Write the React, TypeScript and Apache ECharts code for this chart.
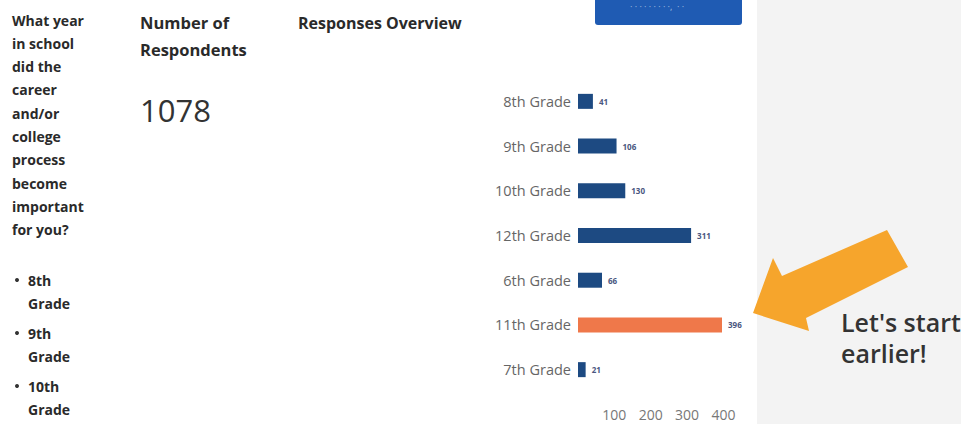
import React, { useEffect, useRef } from "react";
import * as echarts from "echarts";

const categories = ["8th Grade", "9th Grade", "10th Grade", "12th Grade", "6th Grade", "11th Grade", "7th Grade"];
const values = [41, 106, 130, 311, 66, 396, 21];
const highlight = "11th Grade";
const questionLines = ["What year", "in school", "did the", "career", "and/or", "college", "process", "become", "important", "for you?"];
const bulletItems = [["8th", "Grade"], ["9th", "Grade"], ["10th", "Grade"]];
const totalRespondents = "1078";

export default function App() {
  const ref = useRef<HTMLDivElement>(null);
  useEffect(() => {
    const chart = echarts.init(ref.current!, null, { renderer: "svg" });
    const font = "'Open Sans', 'Noto Sans', sans-serif";
    const graphics: any[] = [];
    graphics.push({ type: "rect", shape: { x: 757, y: 0, width: 204, height: 424 }, style: { fill: "#f3f3f3" }, z: 0 });
    graphics.push({ type: "rect", shape: { x: 595, y: -6, width: 147, height: 31, r: 3 }, style: { fill: "#1f5bb3" }, z: 1 });
    graphics.push({ type: "text", x: 630, y: 2, style: { text: "· · · · · · · · ·,  · ·", fill: "rgba(255,255,255,0.6)", font: `9px ${font}` }, z: 2 });
    questionLines.forEach((t, i) => {
      graphics.push({ type: "text", x: 12, y: 20 + i * 23.3, style: { text: t, fill: "#2a2a2a", font: `bold 14px ${font}`, textVerticalAlign: "middle" }, z: 2 });
    });
    bulletItems.forEach((b, i) => {
      const y0 = 280 + i * 53;
      graphics.push({ type: "circle", shape: { cx: 17, cy: y0, r: 2 }, style: { fill: "#333" }, z: 2 });
      graphics.push({ type: "text", x: 28, y: y0, style: { text: b[0], fill: "#2a2a2a", font: `bold 14px ${font}`, textVerticalAlign: "middle" }, z: 2 });
      graphics.push({ type: "text", x: 28, y: y0 + 23, style: { text: b[1], fill: "#2a2a2a", font: `bold 14px ${font}`, textVerticalAlign: "middle" }, z: 2 });
    });
    graphics.push({ type: "text", x: 140, y: 22, style: { text: "Number of", fill: "#2a2a2a", font: `bold 16.5px ${font}`, textVerticalAlign: "middle" }, z: 2 });
    graphics.push({ type: "text", x: 140, y: 49, style: { text: "Respondents", fill: "#2a2a2a", font: `bold 16.5px ${font}`, textVerticalAlign: "middle" }, z: 2 });
    graphics.push({ type: "text", x: 140, y: 110, style: { text: totalRespondents, fill: "#333", font: `31px ${font}`, textVerticalAlign: "middle" }, z: 2 });
    graphics.push({ type: "text", x: 298, y: 23, style: { text: "Responses Overview", fill: "#2a2a2a", font: `bold 16px ${font}`, textVerticalAlign: "middle" }, z: 2 });
    graphics.push({
      type: "polygon",
      shape: { points: [[887, 230], [908, 267], [806, 318], [809, 331], [753, 313], [773, 258], [782, 276]] },
      style: { fill: "#f6a52c" },
      z: 3,
    });
    graphics.push({ type: "text", x: 841, y: 322, style: { text: "Let's start", fill: "#333", font: `600 25px ${font}`, textVerticalAlign: "middle" }, z: 4 });
    graphics.push({ type: "text", x: 841, y: 353, style: { text: "earlier!", fill: "#333", font: `600 25px ${font}`, textVerticalAlign: "middle" }, z: 4 });

    chart.setOption({
      animation: false,
      backgroundColor: "#ffffff",
      graphic: graphics,
      grid: { left: 578, top: 79, width: 160, height: 313, containLabel: false },
      xAxis: {
        type: "value",
        min: 0,
        max: 440,
        interval: 100,
        axisLine: { show: false },
        axisTick: { show: false },
        splitLine: { show: false },
        axisLabel: {
          margin: 15,
          color: "#777",
          fontFamily: font,
          fontSize: 14,
          formatter: (v: number) => (v > 0 && v % 100 === 0 ? String(v) : ""),
        },
      },
      yAxis: {
        type: "category",
        data: categories,
        inverse: true,
        axisLine: { show: false },
        axisTick: { show: false },
        axisLabel: { margin: 7, color: "#666", fontFamily: font, fontSize: 14.5 },
      },
      series: [
        {
          type: "bar",
          barWidth: 15,
          data: values.map((v, i) => ({
            value: v,
            itemStyle: { color: categories[i] === highlight ? "#ef784a" : "#1d4a82" },
          })),
          label: {
            show: true,
            position: "right",
            distance: 6,
            color: "#4a5680",
            fontFamily: font,
            fontSize: 8,
            fontWeight: "bold",
          },
        },
      ],
    });
    return () => chart.dispose();
  }, []);
  return <div ref={ref} style={{ position: "fixed", left: 0, top: 0, width: 961, height: 424 }} />;
}
